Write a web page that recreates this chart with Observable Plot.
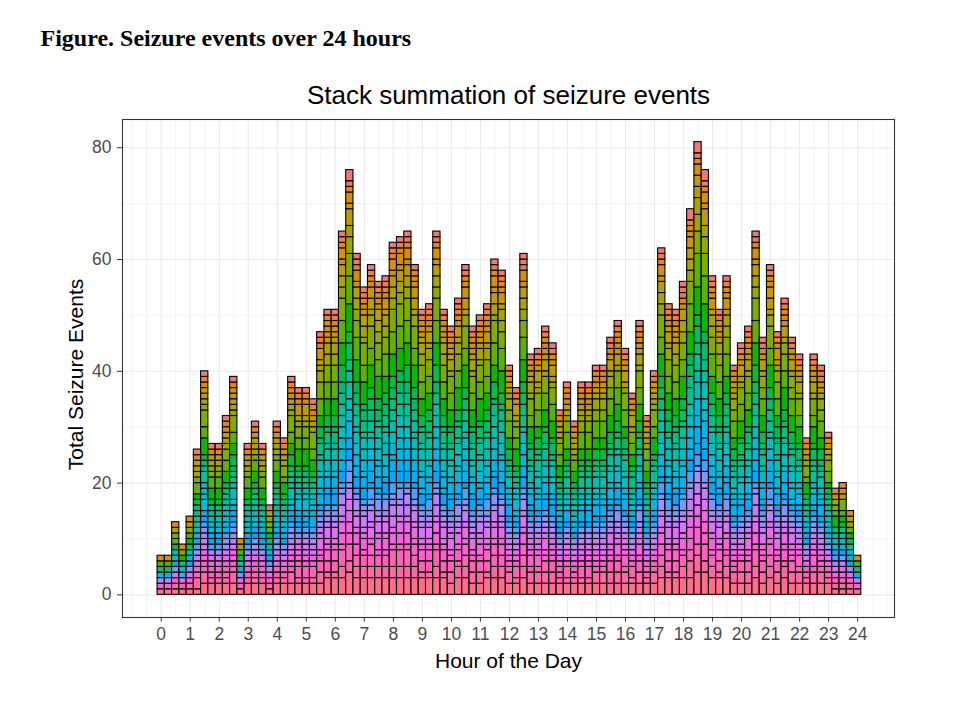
<!DOCTYPE html>
<html>
<head>
<meta charset="utf-8">
<script src="https://cdn.jsdelivr.net/npm/d3@7"></script>
<script src="https://cdn.jsdelivr.net/npm/@observablehq/plot@0.6"></script>
<style>
  body { margin: 0; background: #ffffff; }
  #chart svg { display: block; }
</style>
</head>
<body>
<div id="chart"></div>
<script>
// ---- texts ----
const figureLabel = "Figure. Seizure events over 24 hours";
const chartTitle = "Stack summation of seizure events";
const xTitle = "Hour of the Day";
const yTitle = "Total Seizure Events";

// ---- data: 15-minute bins (centres 0, 0.25, ... 24) and total seizure events per bin ----
const binWidth = 0.25;
const binCenters = d3.range(97).map(i => i * binWidth);
const totals = [
  7, 7, 13, 9, 14, 26, 40, 27, 27, 32, 39, 10,      // 0 - 2.75
  27, 31, 27, 16, 31, 28, 39, 37, 37, 35, 47, 51,   // 3 - 5.75
  51, 65, 76, 61, 55, 59, 56, 57, 63, 64, 65, 59,   // 6 - 8.75
  51, 52, 65, 51, 48, 53, 59, 48, 50, 52, 60, 58,   // 9 - 11.75
  41, 37, 61, 43, 44, 48, 45, 33, 38, 31, 38, 38,   // 12 - 14.75
  41, 41, 46, 49, 44, 36, 49, 32, 40, 62, 52, 51,   // 15 - 17.75
  56, 69, 81, 76, 57, 51, 57, 41, 45, 48, 65, 46,   // 18 - 20.75
  59, 47, 53, 46, 43, 28, 43, 41, 29, 19, 20, 15,   // 21 - 23.75
  7                                                 // 24
];

// ---- ticks / grid ----
const xTicks = d3.range(0, 25);
const xMinor = d3.range(-1, 25.01, 0.5).filter(v => !Number.isInteger(v) || v < 0 || v > 24);
const yTicks = [0, 20, 40, 60, 80];
const yMinor = [10, 30, 50, 70];

// ---- ggplot-style hue palette (polar LUV, c = 100, l = 65) ----
const nLevels = 32;
const hueStops = [[0, 372], [0.11, 335], [0.22, 285], [0.31, 240], [0.42, 200],
                  [0.52, 165], [0.60, 135], [0.80, 100], [0.90, 65], [0.95, 40], [0.985, 15], [1, 15]];

function hclLuv(h, c, l) {
  const hr = h * Math.PI / 180;
  const u = c * Math.cos(hr), v = c * Math.sin(hr);
  const Y = l > 8 ? Math.pow((l + 16) / 116, 3) : l / 903.3;
  const un = 0.1978398, vn = 0.4683363;
  const up = u / (13 * l) + un, vp = v / (13 * l) + vn;
  const X = Y * 9 * up / (4 * vp);
  const Z = Y * (12 - 3 * up - 20 * vp) / (4 * vp);
  const lin = [
     3.240479 * X - 1.537150 * Y - 0.498535 * Z,
    -0.969256 * X + 1.875992 * Y + 0.041556 * Z,
     0.055648 * X - 0.204043 * Y + 1.057311 * Z
  ];
  const g = lin.map(t => {
    t = Math.max(0, Math.min(1, t));
    const s = t <= 0.0031308 ? 12.92 * t : 1.055 * Math.pow(t, 1 / 2.4) - 0.055;
    return Math.round(s * 255);
  });
  return `rgb(${g[0]},${g[1]},${g[2]})`;
}
const palette = d3.range(nLevels).map(i => hclLuv(15 + i * 360 / nLevels, 100, 65));

function hueAt(p) {
  for (let i = 1; i < hueStops.length; i++) {
    const [p0, h0] = hueStops[i - 1], [p1, h1] = hueStops[i];
    if (p <= p1) return h0 + (h1 - h0) * (p - p0) / (p1 - p0);
  }
  return 15;
}

// ---- build stacked blocks (one outlined block per subject level within a bin) ----
const blocks = [];
binCenters.forEach((h, i) => {
  const T = totals[i];
  const gamma = 1 + 3 / T;
  let prev = null;
  for (let k = 0; k < T; k++) {
    const p = Math.pow((k + 0.5) / T, gamma);
    let lvl = Math.round((hueAt(p) - 15) / 360 * nLevels);
    lvl = Math.max(0, Math.min(nLevels - 1, lvl));
    if (prev && prev.level === lvl) { prev.y2 = k + 1; continue; }
    prev = {x1: h - binWidth / 2, x2: h + binWidth / 2, y1: k, y2: k + 1, level: lvl, color: palette[lvl]};
    blocks.push(prev);
  }
});

const gridColor = "#ebebeb";
const chart = Plot.plot({
  width: 960,
  height: 720,
  marginLeft: 122,
  marginRight: 66,
  marginTop: 119,
  marginBottom: 103,
  style: {fontFamily: "Liberation Sans, Arial, sans-serif", background: "#ffffff", overflow: "visible"},
  x: {domain: [-1.334, 25.27], axis: null},
  y: {domain: [-4.05, 85.05], axis: null},
  color: {type: "identity"},
  marks: [
    Plot.ruleX(xMinor, {stroke: gridColor, strokeWidth: 0.6}),
    Plot.ruleX(xTicks, {stroke: gridColor, strokeWidth: 1.1}),
    Plot.ruleY(yMinor, {stroke: gridColor, strokeWidth: 0.6}),
    Plot.ruleY(yTicks, {stroke: gridColor, strokeWidth: 1.1}),
    Plot.rect(blocks, {x1: "x1", x2: "x2", y1: "y1", y2: "y2", fill: "color", stroke: "#000000", strokeWidth: 1.1}),
    Plot.frame({stroke: "#333333", strokeWidth: 1.1}),
    Plot.axisX(xTicks, {label: null, tickSize: 4.5, tickPadding: 6, stroke: "#333333", fill: "#4d4d4d", fontSize: 17.5}),
    Plot.axisY(yTicks, {label: null, tickSize: 5, tickPadding: 6, stroke: "#333333", fill: "#4d4d4d", fontSize: 17.5}),
    Plot.text([xTitle], {text: d => d, frameAnchor: "bottom", dy: 44, lineAnchor: "middle", fontSize: 21, fill: "#000000"}),
    Plot.text([yTitle], {text: d => d, frameAnchor: "left", dx: -46, dy: 6, rotate: -90, textAnchor: "middle", lineAnchor: "middle", fontSize: 21, fill: "#000000"}),
    Plot.text([chartTitle], {text: d => d, frameAnchor: "top", dy: -24, lineAnchor: "middle", fontSize: 26, fill: "#000000"}),
    Plot.text([figureLabel], {text: d => d, frameAnchor: "top-left", dx: -82, dy: -81, textAnchor: "start", lineAnchor: "middle",
      fontSize: 24, fontWeight: "bold", fontFamily: "Liberation Serif, Times New Roman, serif", fill: "#000000"})
  ]
});
document.getElementById("chart").appendChild(chart);
</script>
</body>
</html>
